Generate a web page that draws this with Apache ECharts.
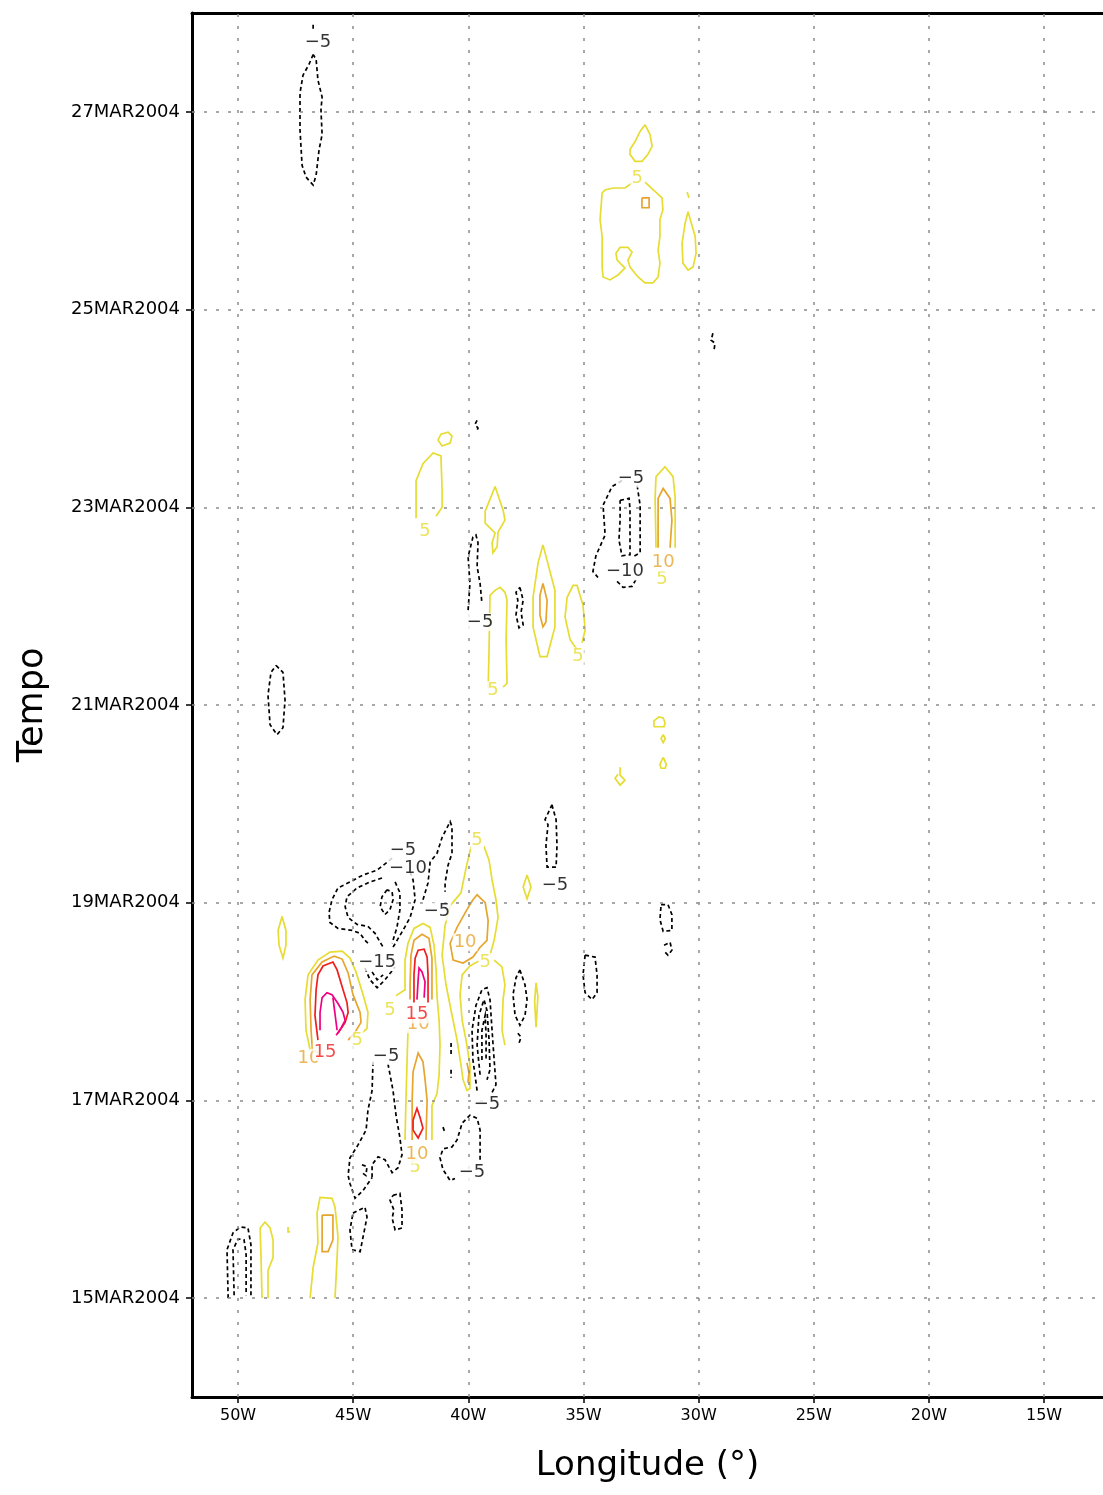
<!DOCTYPE html>
<html><head><meta charset="utf-8">
<script src="https://cdn.jsdelivr.net/npm/echarts@6/dist/echarts.min.js"></script>
<style>html,body{margin:0;padding:0;background:#fff}#c{width:1103px;height:1495px}</style>
</head><body><div id="c"></div><script>
// Axes
const xTicks = [-50,-45,-40,-35,-30,-25,-20,-15];
const xTickLabels = ['50W','45W','40W','35W','30W','25W','20W','15W'];
const yTicks = [15,17,19,21,23,25,27];
const yTickLabels = ['15MAR2004','17MAR2004','19MAR2004','21MAR2004','23MAR2004','25MAR2004','27MAR2004'];

// Contours: each is a list of [longitude (deg E), day of March 2004]
const contoursNeg5 = [
 [[-46.74,27.58],[-46.92,27.48],[-47.18,27.37],[-47.31,27.19],[-47.31,26.82],[-47.22,26.46],[-47.05,26.34],[-46.74,26.26],[-46.61,26.36],[-46.48,26.62],[-46.35,26.77],[-46.40,27.02],[-46.35,27.15],[-46.53,27.32],[-46.61,27.53],[-46.74,27.58]],
 [[-46.74,27.88],[-46.74,27.83]],
 [[-29.38,24.76],[-29.46,24.69],[-29.29,24.66],[-29.33,24.59]],
 [[-39.62,23.88],[-39.71,23.84],[-39.58,23.80],[-39.67,23.76]],
 [[-40.01,21.96],[-39.93,22.23],[-40.01,22.50],[-39.80,22.70],[-39.67,22.72],[-39.58,22.64],[-39.62,22.40],[-39.49,22.23],[-39.41,22.03]],
 [[-37.76,22.19],[-37.62,22.06],[-37.71,21.94],[-37.62,21.81],[-37.80,21.78],[-37.93,21.91],[-37.85,22.06],[-37.93,22.14],[-37.76,22.19]],
 [[-33.33,23.27],[-33.76,23.21],[-34.15,23.02],[-34.06,22.72],[-34.46,22.51],[-34.59,22.35],[-34.37,22.29]],
 [[-32.67,23.22],[-32.54,23.02],[-32.54,22.54],[-32.85,22.50]],
 [[-48.35,21.40],[-48.05,21.33],[-47.96,21.05],[-48.05,20.77],[-48.31,20.70],[-48.61,20.80],[-48.70,21.10],[-48.57,21.33],[-48.35,21.40]],
 [[-36.37,19.99],[-36.19,19.84],[-36.15,19.58],[-36.19,19.36],[-36.58,19.36],[-36.63,19.58],[-36.54,19.79],[-36.67,19.84],[-36.37,19.99]],
 [[-31.63,18.98],[-31.33,18.98],[-31.16,18.88],[-31.16,18.72],[-31.54,18.71],[-31.68,18.83],[-31.63,18.98]],
 [[-31.50,18.57],[-31.24,18.60],[-31.16,18.52],[-31.33,18.47],[-31.54,18.52]],
 [[-34.93,18.47],[-34.50,18.45],[-34.41,18.27],[-34.41,18.09],[-34.63,18.02],[-34.93,18.09],[-35.02,18.27],[-34.93,18.47]],
 [[-43.31,19.45],[-43.96,19.33],[-44.57,19.28],[-45.14,19.21],[-45.66,19.15],[-45.92,19.03],[-46.05,18.90],[-46.01,18.80],[-45.66,18.74],[-45.05,18.72],[-44.70,18.69],[-44.49,18.62],[-44.27,18.57]],
 [[-42.53,19.31],[-42.40,19.23],[-42.31,19.03],[-42.53,18.85],[-42.84,18.72],[-43.27,18.55]],
 [[-41.97,19.03],[-41.75,19.20],[-41.66,19.41],[-41.36,19.50],[-41.14,19.66],[-40.79,19.82],[-40.71,19.77],[-40.71,19.50],[-40.88,19.38],[-41.01,19.20],[-41.01,19.11]],
 [[-39.62,17.10],[-39.80,17.41],[-39.84,17.71],[-39.67,17.96],[-39.41,18.12],[-39.19,18.14],[-39.06,18.02],[-38.97,17.71],[-38.88,17.41],[-38.80,17.16],[-38.97,17.08]],
 [[-40.75,17.58],[-40.75,17.46]],
 [[-40.75,17.31],[-40.75,17.23]],
 [[-37.76,18.32],[-37.54,18.17],[-37.45,18.02],[-37.54,17.86],[-37.76,17.76],[-37.97,17.86],[-38.06,18.07],[-37.93,18.24],[-37.76,18.32]],
 [[-37.85,17.68],[-37.71,17.64],[-37.80,17.58]],
 [[-44.14,17.39],[-44.18,17.10],[-44.36,16.90],[-44.44,16.70],[-44.79,16.55],[-45.14,16.42],[-45.22,16.24],[-45.14,16.16],[-44.92,16.01],[-44.57,16.09],[-44.18,16.22]],
 [[-43.49,17.37],[-43.27,17.10],[-43.14,16.85],[-42.97,16.62],[-42.88,16.45],[-43.05,16.32],[-43.31,16.27],[-43.62,16.40],[-43.92,16.43],[-44.18,16.35],[-44.18,16.22]],
 [[-44.62,16.35],[-44.40,16.33],[-44.45,16.24],[-44.62,16.27]],
 [[-39.49,16.40],[-39.49,16.70],[-39.62,16.82],[-39.93,16.85],[-40.27,16.77],[-40.49,16.60],[-40.71,16.53],[-41.10,16.51],[-41.23,16.42],[-41.10,16.30],[-40.79,16.19],[-40.58,16.21]],
 [[-41.10,16.73],[-41.01,16.67]],
 [[-50.43,15.00],[-50.48,15.49],[-50.22,15.66],[-49.91,15.72],[-49.57,15.71],[-49.44,15.54],[-49.44,15.00]],
 [[-45.01,15.86],[-44.49,15.92],[-44.40,15.82],[-44.57,15.62],[-44.70,15.47],[-45.05,15.49],[-45.14,15.69],[-45.01,15.86]],
 [[-43.27,16.04],[-42.97,16.06],[-42.88,15.89],[-42.88,15.71],[-43.18,15.69],[-43.31,15.81],[-43.23,15.89],[-43.40,15.99],[-43.27,16.04]]
];
const contoursNeg10 = [
 [[-33.41,23.07],[-33.02,23.09],[-32.98,22.98],[-32.98,22.52],[-33.33,22.51],[-33.46,22.67],[-33.41,22.87],[-33.41,23.07]],
 [[-33.54,22.25],[-33.28,22.19],[-32.89,22.20],[-32.72,22.27]],
 [[-43.75,19.25],[-44.27,19.21],[-44.83,19.15],[-45.27,19.06],[-45.35,18.96],[-45.22,18.85],[-44.83,18.78],[-44.36,18.76],[-44.05,18.69],[-43.83,18.60],[-43.70,18.55]],
 [[-43.18,19.21],[-42.97,19.10],[-42.97,18.93],[-43.10,18.75],[-43.31,18.59]],
 [[-39.49,17.26],[-39.62,17.56],[-39.54,17.86],[-39.32,18.02],[-39.19,17.91],[-39.10,17.61],[-39.06,17.31],[-39.19,17.21]],
 [[-50.17,15.03],[-50.22,15.49],[-50.00,15.60],[-49.74,15.59],[-49.65,15.44],[-49.65,15.03]]
];
const contoursNeg15 = [
 [[-43.53,19.13],[-43.75,19.06],[-43.83,18.96],[-43.62,18.88],[-43.40,18.93],[-43.27,19.03],[-43.31,19.11],[-43.53,19.13]],
 [[-44.49,18.34],[-44.27,18.22],[-43.96,18.14],[-43.62,18.22],[-43.18,18.35]],
 [[-44.18,18.30],[-43.96,18.22],[-43.70,18.27]],
 [[-39.41,17.41],[-39.41,17.71],[-39.27,17.86],[-39.23,17.66],[-39.23,17.41]]
];
const contoursPos5 = [
 [[-32.33,26.87],[-32.11,26.77],[-32.02,26.65],[-32.20,26.57],[-32.46,26.50],[-32.76,26.50],[-32.98,26.57],[-32.98,26.62],[-32.76,26.70],[-32.55,26.80],[-32.33,26.87]],
 [[-32.33,26.29],[-31.59,26.13],[-31.55,26.01],[-31.68,25.91],[-31.68,25.74],[-31.76,25.60],[-31.68,25.47],[-31.76,25.33],[-31.98,25.27],[-32.33,25.27],[-32.63,25.33],[-32.98,25.43],[-33.07,25.50],[-32.89,25.58],[-33.07,25.63],[-33.41,25.63],[-33.59,25.57],[-33.54,25.50],[-33.20,25.42],[-33.50,25.35],[-33.85,25.30],[-34.15,25.33],[-34.19,25.43],[-34.19,25.74],[-34.28,25.91],[-34.19,26.18],[-34.06,26.21],[-33.72,26.23],[-33.20,26.23],[-32.89,26.28]],
 [[-30.46,25.99],[-30.15,25.74],[-30.11,25.57],[-30.24,25.43],[-30.46,25.40],[-30.68,25.47],[-30.72,25.67],[-30.59,25.87],[-30.46,25.99]],
 [[-30.50,26.19],[-30.42,26.13]],
 [[-41.32,23.68],[-41.19,23.74],[-40.88,23.76],[-40.71,23.72],[-40.79,23.65],[-41.14,23.62],[-41.32,23.68]],
 [[-42.27,22.89],[-42.27,23.27],[-41.97,23.44],[-41.53,23.55],[-41.19,23.52],[-41.14,23.18],[-41.14,23.00],[-41.40,22.91]],
 [[-38.84,23.21],[-38.49,22.97],[-38.41,22.87],[-38.71,22.75],[-38.75,22.60],[-38.93,22.54],[-38.97,22.64],[-38.84,22.74],[-39.27,22.84],[-39.27,22.96],[-39.06,23.08],[-38.84,23.21]],
 [[-39.14,21.17],[-39.10,21.56],[-39.06,22.11],[-38.84,22.16],[-38.62,22.19],[-38.41,22.14],[-38.32,22.06],[-38.36,21.66],[-38.32,21.22],[-38.49,21.18]],
 [[-36.76,22.62],[-36.24,22.16],[-36.24,21.79],[-36.58,21.49],[-36.89,21.49],[-37.19,21.79],[-37.19,22.09],[-36.97,22.44],[-36.76,22.62]],
 [[-35.28,21.56],[-35.58,21.66],[-35.80,21.89],[-35.71,22.09],[-35.45,22.21],[-35.28,22.21],[-35.02,22.01],[-34.93,21.76],[-35.06,21.63]],
 [[-31.85,22.59],[-31.89,23.10],[-31.85,23.31],[-31.46,23.41],[-31.11,23.31],[-31.02,23.10],[-31.02,22.59]],
 [[-31.94,20.78],[-31.94,20.84],[-31.72,20.88],[-31.54,20.87],[-31.46,20.82],[-31.50,20.78],[-31.94,20.78]],
 [[-31.54,20.70],[-31.45,20.66],[-31.54,20.62],[-31.63,20.66],[-31.54,20.70]],
 [[-31.54,20.47],[-31.40,20.40],[-31.45,20.36],[-31.63,20.36],[-31.68,20.40],[-31.54,20.47]],
 [[-33.41,20.37],[-33.41,20.29],[-33.20,20.24],[-33.41,20.19],[-33.63,20.26],[-33.50,20.30]],
 [[-37.45,19.28],[-37.28,19.16],[-37.45,19.04],[-37.62,19.16],[-37.45,19.28]],
 [[-48.09,18.86],[-47.92,18.72],[-47.92,18.57],[-48.05,18.44],[-48.22,18.57],[-48.26,18.72],[-48.09,18.86]],
 [[-46.87,17.51],[-47.05,17.71],[-47.09,18.02],[-46.96,18.27],[-46.53,18.42],[-46.01,18.50],[-45.48,18.51],[-45.14,18.44],[-44.88,18.30],[-44.57,18.07],[-44.36,17.89],[-44.40,17.73],[-44.62,17.68]],
 [[-43.14,18.06],[-42.75,18.12],[-42.75,18.42],[-42.62,18.59],[-42.36,18.74],[-41.97,18.79],[-41.66,18.75],[-41.49,18.57],[-41.40,18.32],[-41.36,18.05],[-41.27,17.81],[-41.23,17.56],[-41.27,17.26],[-41.36,17.07],[-41.58,16.95],[-41.58,16.60]],
 [[-42.62,17.71],[-42.66,17.41],[-42.71,17.00],[-42.75,16.60]],
 [[-39.88,19.57],[-40.10,19.35],[-40.32,19.10],[-40.79,18.97],[-41.01,18.77],[-41.14,18.47],[-40.97,18.17],[-40.75,17.91],[-40.49,17.61],[-40.32,17.36],[-40.23,17.21],[-40.06,17.10],[-39.93,17.12],[-39.93,17.36],[-40.10,17.61],[-40.27,17.81],[-40.36,18.07],[-40.27,18.27],[-39.93,18.36],[-39.54,18.41]],
 [[-39.32,19.57],[-39.10,19.43],[-38.97,19.23],[-38.80,19.03],[-38.71,18.85],[-38.88,18.62],[-39.06,18.47]],
 [[-38.88,18.42],[-38.54,18.35],[-38.41,18.17],[-38.49,18.02],[-38.54,17.71],[-38.41,17.56]],
 [[-37.06,18.19],[-36.98,18.05],[-37.06,17.74],[-37.12,18.00],[-37.06,18.19]],
 [[-48.96,15.00],[-49.00,15.38],[-49.04,15.71],[-48.83,15.77],[-48.61,15.71],[-48.48,15.59],[-48.48,15.41],[-48.70,15.28],[-48.70,15.00]],
 [[-47.83,15.72],[-47.83,15.67],[-47.74,15.67]],
 [[-46.87,15.00],[-46.74,15.31],[-46.53,15.56],[-46.57,15.86],[-46.44,16.02],[-45.92,16.01],[-45.79,15.92],[-45.66,15.62],[-45.70,15.41],[-45.79,15.00]]
];
const contoursPos10 = [
 [[-32.46,26.13],[-32.15,26.13],[-32.15,26.03],[-32.46,26.03],[-32.46,26.13]],
 [[-36.76,22.23],[-36.58,22.06],[-36.63,21.84],[-36.76,21.79],[-36.89,21.91],[-36.89,22.11],[-36.76,22.23]],
 [[-31.76,22.59],[-31.76,23.09],[-31.54,23.19],[-31.24,23.09],[-31.16,22.87],[-31.24,22.59]],
 [[-46.74,17.41],[-46.83,17.71],[-46.87,18.02],[-46.79,18.27],[-46.35,18.40],[-45.83,18.46],[-45.48,18.43],[-45.22,18.29],[-45.01,18.07],[-44.70,17.89],[-44.66,17.79],[-44.92,17.69],[-45.22,17.61]],
 [[-42.53,18.02],[-42.53,18.17],[-42.49,18.47],[-42.36,18.62],[-42.01,18.68],[-41.71,18.64],[-41.58,18.44],[-41.58,18.02]],
 [[-42.44,16.60],[-42.44,17.00],[-42.40,17.29],[-42.18,17.48],[-41.97,17.39],[-41.88,17.21],[-41.79,17.00],[-41.84,16.60]],
 [[-39.80,19.03],[-39.62,19.08],[-39.27,19.00],[-39.14,18.82],[-39.19,18.62],[-39.49,18.55],[-39.80,18.45],[-40.23,18.39],[-40.66,18.42],[-40.79,18.59],[-40.49,18.75],[-40.06,18.93],[-39.80,19.03]],
 [[-40.06,17.38],[-39.97,17.28],[-40.02,17.18]],
 [[-46.35,15.84],[-45.88,15.84],[-45.88,15.59],[-46.09,15.47],[-46.35,15.47],[-46.35,15.84]]
];
const contoursPos15 = [
 [[-46.53,17.61],[-46.66,17.86],[-46.61,18.12],[-46.53,18.27],[-46.31,18.36],[-45.88,18.40],[-45.70,18.32],[-45.48,18.15],[-45.27,17.99],[-45.22,17.89],[-45.35,17.79],[-45.66,17.68]],
 [[-42.36,17.99],[-42.36,18.27],[-42.31,18.44],[-42.18,18.52],[-41.92,18.53],[-41.79,18.45],[-41.75,18.27],[-41.75,17.99]],
 [[-42.40,16.70],[-42.40,16.80],[-42.23,16.92],[-42.10,16.83],[-41.97,16.72],[-42.18,16.62],[-42.40,16.70]]
];
const contoursPos20 = [
 [[-46.44,17.71],[-46.44,17.89],[-46.35,18.04],[-46.14,18.09],[-45.92,18.07],[-45.66,17.98],[-45.44,17.89],[-45.35,17.81],[-45.53,17.73],[-45.74,17.66]],
 [[-45.88,18.04],[-45.70,17.71]],
 [[-42.23,18.02],[-42.18,18.22],[-42.14,18.34],[-42.01,18.30],[-41.88,18.20],[-41.92,18.04]]
];

// Contour labels: [lon, day, text]
const labelsPos5 = [[-32.67,26.33,'5'],[-41.88,22.76,'5'],[-38.93,21.15,'5'],[-35.24,21.49,'5'],[-31.59,22.27,'5'],[-39.62,19.63,'5'],[-39.27,18.40,'5'],[-43.40,17.91,'5'],[-44.83,17.61,'5'],[-42.31,16.32,'5']];
const labelsPos10 = [[-31.54,22.44,'10'],[-40.14,18.60,'10'],[-42.18,17.77,'10'],[-46.92,17.43,'10'],[-42.23,16.45,'10']];
const labelsPos15 = [[-46.22,17.49,'15'],[-42.23,17.87,'15']];
const labelsNeg = [[-46.53,27.70,'−5'],[-32.94,23.29,'−5'],[-33.20,22.35,'−10'],[-39.49,21.84,'−5'],[-36.24,19.18,'−5'],[-42.84,19.53,'−5'],[-42.62,19.35,'−10'],[-41.36,18.91,'−5'],[-43.96,18.40,'−15'],[-43.57,17.45,'−5'],[-39.19,16.96,'−5'],[-39.84,16.27,'−5']];

const FONT = 'DejaVu Sans';
const X_MIN = -52, X_MAX = -12.44, Y_MIN = 14, Y_MAX = 28;
function contourSeries(list, color, dashed) {
  return {
    type: 'lines', coordinateSystem: 'cartesian2d', polyline: true, z: 3, silent: true,
    data: list.map(c => ({coords: c})),
    lineStyle: {color: color, width: 1.7, type: dashed ? [4, 3] : 'solid', opacity: 1}
  };
}
function labelSeries(list, color) {
  return {
    type: 'scatter', z: 6, silent: true, symbolSize: 1,
    itemStyle: {color: 'rgba(0,0,0,0)'},
    data: list,
    label: {show: true, position: 'inside', formatter: p => p.value[2], color: color,
      fontFamily: FONT, fontSize: 18, backgroundColor: '#fff', padding: [0, 1]}
  };
}
const gridLine = {color: '#8c8c8c', width: 1.5, type: [3, 9]};

const chart = echarts.init(document.getElementById('c'), null, {renderer: 'canvas'});
chart.setOption({
  animation: false,
  backgroundColor: '#fff',
  grid: {left: 192, top: 13, right: 0, bottom: 98, show: false},
  xAxis: [{
    type: 'value', min: X_MIN, max: X_MAX, position: 'bottom',
    name: 'Longitude (°)', nameLocation: 'middle', nameGap: 52,
    nameTextStyle: {fontFamily: FONT, fontSize: 34, color: '#000'},
    axisLine: {show: true, onZero: false, lineStyle: {color: '#000', width: 3}},
    axisTick: {show: true, customValues: xTicks, length: 6, inside: false, lineStyle: {color: '#000', width: 1.5}},
    axisLabel: {customValues: xTicks, margin: 11, fontFamily: FONT, fontSize: 16, color: '#000',
      formatter: v => xTickLabels[xTicks.indexOf(v)] || ''},
    splitLine: {show: false}
  }, {
    type: 'value', min: X_MIN, max: X_MAX, position: 'top',
    axisLine: {show: true, onZero: false, lineStyle: {color: '#000', width: 3}},
    axisTick: {show: false}, axisLabel: {show: false}, splitLine: {show: false}
  }],
  yAxis: {
    type: 'value', min: Y_MIN, max: Y_MAX,
    name: 'Tempo', nameLocation: 'middle', nameGap: 142, nameRotate: 90,
    nameTextStyle: {fontFamily: FONT, fontSize: 35, color: '#000'},
    axisLine: {show: true, onZero: false, lineStyle: {color: '#000', width: 3}},
    axisTick: {show: true, customValues: yTicks, length: 6, inside: false, lineStyle: {color: '#000', width: 1.5}},
    axisLabel: {customValues: yTicks, margin: 12, fontFamily: FONT, fontSize: 18, color: '#000',
      formatter: v => yTickLabels[yTicks.indexOf(v)] || ''},
    splitLine: {show: false}
  },
  series: [
    {type: 'scatter', z: 1, silent: true, symbolSize: 0, data: [[-52, 14]],
     markLine: {silent: true, symbol: 'none', label: {show: false}, lineStyle: gridLine,
       data: xTicks.map(v => ({xAxis: v})).concat(yTicks.map(v => ({yAxis: v})))}},
    contourSeries(contoursNeg5, '#000', true),
    contourSeries(contoursNeg10, '#000', true),
    contourSeries(contoursNeg15, '#000', true),
    contourSeries(contoursPos5, '#e6dc32', false),
    contourSeries(contoursPos10, '#e6a52d', false),
    contourSeries(contoursPos15, '#f01e1e', false),
    contourSeries(contoursPos20, '#f00082', false),
    labelSeries(labelsPos5, '#e6dc32'),
    labelSeries(labelsPos10, '#e6a52d'),
    labelSeries(labelsPos15, '#f01e1e'),
    labelSeries(labelsNeg, '#000')
  ]
});
</script></body></html>
